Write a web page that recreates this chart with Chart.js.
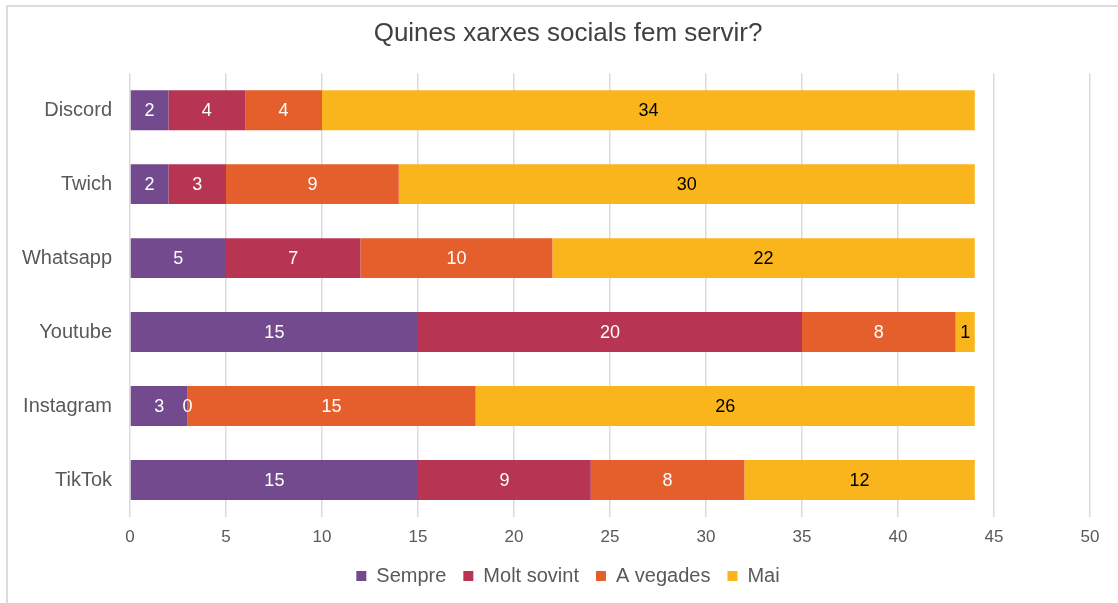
<!DOCTYPE html>
<html>
<head>
<meta charset="utf-8">
<script src="https://cdn.jsdelivr.net/npm/chart.js@4"></script>
<style>
  html, body { margin: 0; padding: 0; background: #fff; overflow: hidden; }
  #frame {
    position: absolute; left: 6px; top: 5px;
    width: 1200px; height: 700px;
    border: 2px solid #dcdcdc;
  }
  #chart { position: absolute; left: 0; top: 0; }
</style>
</head>
<body>
<div id="frame"></div>
<canvas id="chart" width="1118" height="603"></canvas>
<script>
// Data
const categories = ['Discord', 'Twich', 'Whatsapp', 'Youtube', 'Instagram', 'TikTok'];
const sempre = [2, 2, 5, 15, 3, 15];
const moltSovint = [4, 3, 7, 20, 0, 9];
const aVegades = [4, 9, 10, 8, 15, 8];
const mai = [34, 30, 22, 1, 26, 12];
const seriesNames = ['Sempre', 'Molt sovint', 'A vegades', 'Mai'];
const seriesColors = ['#744a8e', '#b73553', '#e45f2b', '#fab51c'];
const labelColors = ['#ffffff', '#ffffff', '#ffffff', '#000000'];

const FONT = "'Liberation Sans', Arial, sans-serif";

// Plugin to write the value in the middle of every bar segment
const barLabels = {
    id: 'barLabels',
    afterDatasetsDraw(chart) {
        const ctx = chart.ctx;
        ctx.save();
        ctx.font = '18px ' + FONT;
        ctx.textAlign = 'center';
        ctx.textBaseline = 'middle';
        chart.data.datasets.forEach((ds, i) => {
            const meta = chart.getDatasetMeta(i);
            meta.data.forEach((bar, j) => {
                const x = (bar.x + bar.base) / 2;
                ctx.fillStyle = labelColors[i];
                ctx.fillText(String(ds.data[j]), x, bar.y + 1);
            });
        });
        ctx.restore();
    }
};

const allSeries = [sempre, moltSovint, aVegades, mai];

new Chart(document.getElementById('chart').getContext('2d'), {
    type: 'bar',
    data: {
        labels: categories,
        datasets: allSeries.map((values, i) => ({
            label: seriesNames[i],
            data: values,
            backgroundColor: seriesColors[i],
            borderWidth: 0,
            categoryPercentage: 1,
            barPercentage: 0.54
        }))
    },
    options: {
        indexAxis: 'y',
        responsive: false,
        animation: false,
        devicePixelRatio: 1,
        layout: { padding: { left: 18, right: 0, top: 0, bottom: 7 } },
        scales: {
            x: {
                stacked: true,
                min: 0,
                max: 50,
                ticks: { stepSize: 5, color: '#595959', font: { family: FONT, size: 17 }, padding: 9.8 },
                grid: { color: '#dadada', lineWidth: 1.5, drawTicks: false },
                border: { display: false },
                afterFit(scale) { scale.height = 32; }
            },
            y: {
                stacked: true,
                ticks: { color: '#595959', font: { family: FONT, size: 20 }, padding: 18 },
                grid: { display: false, drawTicks: false },
                border: { display: false },
                afterFit(scale) { scale.width = 112; }
            },
            // empty right-hand axis, only keeps the right margin of the plot
            yRight: {
                type: 'linear',
                position: 'right',
                ticks: { display: false },
                grid: { display: false, drawTicks: false },
                border: { display: false },
                afterFit(scale) { scale.width = 28; }
            }
        },
        plugins: {
            title: {
                display: true,
                text: 'Quines xarxes socials fem servir?',
                color: '#404040',
                font: { family: FONT, size: 26, weight: 'normal' },
                padding: { top: 18, bottom: 24 }
            },
            legend: {
                position: 'bottom',
                labels: {
                    color: '#595959',
                    font: { family: FONT, size: 20 },
                    boxWidth: 10,
                    boxHeight: 10,
                    padding: 17
                }
            },
            tooltip: { enabled: false }
        }
    },
    plugins: [barLabels]
});
</script>
</body>
</html>
